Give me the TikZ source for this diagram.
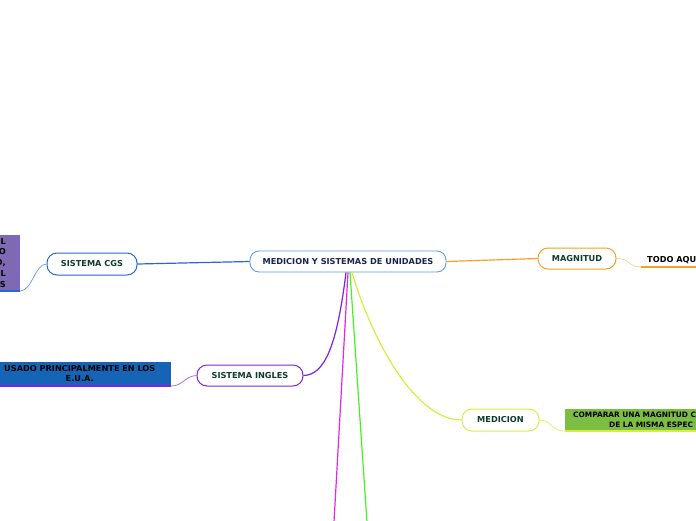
\documentclass[tikz,border=0pt]{standalone}
\usepackage{fontspec}
\setmainfont{DejaVu Sans}
\usepackage{xcolor}
\usepackage{tikz}
\usetikzlibrary{positioning}
\definecolor{rootline}{RGB}{92,160,222}
\definecolor{roottext}{RGB}{26,36,82}
\definecolor{topictext}{RGB}{14,59,43}
\definecolor{cgsline}{RGB}{42,100,228}
\definecolor{inglesline}{RGB}{122,34,232}
\definecolor{magline}{RGB}{245,162,32}
\definecolor{medline}{RGB}{212,240,60}
\definecolor{pinkline}{RGB}{228,36,240}
\definecolor{greenline}{RGB}{70,240,36}
\definecolor{boxpurple}{RGB}{126,106,180}
\definecolor{boxblue}{RGB}{22,100,182}
\definecolor{boxgreen}{RGB}{124,189,66}

\begin{document}
\begin{tikzpicture}[x=1pt, y=-1pt,
  root/.style={rectangle, rounded corners=9pt, draw=rootline, line width=0.9pt, fill=white, minimum width=196pt, minimum height=21pt, font=\bfseries\fontsize{8.2}{10}\selectfont, text=roottext},
  topic/.style={rectangle, rounded corners=10pt, line width=1pt, fill=white, minimum height=22pt, font=\bfseries\fontsize{8.2}{10}\selectfont, text=topictext},
  leaf/.style={rectangle, font=\bfseries\fontsize{8.2}{10}\selectfont, text=black, inner ysep=2pt},
  link/.style={line width=1.2pt},
  twig/.style={line width=0.7pt}
]
\useasboundingbox (0,0) rectangle (696,520);

\node[root] (root) at (348,261.5) {MEDICION Y SISTEMAS DE UNIDADES};
\node[topic, draw=cgsline, minimum width=90pt] (cgs) at (92,264) {SISTEMA CGS};
\node[topic, draw=inglesline, minimum width=106pt, minimum height=21pt] (ingles) at (250,375.5) {SISTEMA INGLES};
\node[topic, draw=magline, minimum width=78pt, minimum height=21pt] (magnitud) at (577,258.5) {MAGNITUD};
\node[topic, draw=medline, minimum width=77pt] (medicion) at (500.5,420) {MEDICION};

\node[leaf, fill=boxpurple, font=\bfseries\fontsize{8.2}{10.8}\selectfont, text width=26pt, inner xsep=14pt, align=right, minimum height=56pt, anchor=south east] (cgsleaf) at (20,291) {L\\O\\D,\\L\\S};
\node[leaf, fill=boxblue, text width=176pt, inner xsep=3pt, align=center, minimum height=24pt, anchor=south east] (usbox) at (171,386) {USADO PRINCIPALMENTE EN LOS\\E.U.A.};
\node[leaf, inner xsep=6pt, inner ysep=3pt, anchor=south west] (todo) at (641,267) {TODO AQU};
\node[leaf, fill=boxgreen, font=\bfseries\fontsize{7.4}{9.5}\selectfont, text width=140pt, minimum height=22pt, inner xsep=8pt, align=left, anchor=south west] (cmpbox) at (565,431) {COMPARAR UNA MAGNITUD C\\\hspace*{36pt}DE LA MISMA ESPEC};

\coordinate (offpink) at (334,522);
\coordinate (offgreen) at (367,522);

\draw[link, draw=cgsline] (root.west) -- (cgs.east);
\draw[link, draw=magline] (root.east) -- (magnitud.west);
\draw[link, draw=pinkline] (root.south) -- (offpink);
\draw[link, draw=greenline] ([xshift=2pt]root.south) -- (offgreen);
\draw[link, draw=inglesline] ([xshift=-2pt]root.south) .. controls (337,345) and (325,375) .. (ingles.east);
\draw[link, draw=medline] ([xshift=4pt]root.south) .. controls (372,340) and (415,420) .. (medicion.west);

\draw[twig, draw=cgsline!70] (cgs.west) .. controls (35,264) and (32,291) .. (cgsleaf.south east);
\draw[line width=1.2pt, draw=cgsline] (cgsleaf.south east) -- (cgsleaf.south west);
\draw[twig, draw=inglesline!70] (ingles.west) .. controls (185,376) and (183,386) .. (usbox.south east);
\draw[line width=1.2pt, draw=inglesline] (usbox.south east) -- (usbox.south west);
\draw[twig, draw=magline!50] (magnitud.east) .. controls (630,258) and (628,267) .. (todo.south west);
\draw[line width=1.2pt, draw=magline] (todo.south west) -- (todo.south east);
\draw[twig, draw=medline!80] (medicion.east) .. controls (552,420) and (550,431) .. (cmpbox.south west);
\draw[line width=1.2pt, draw=medline] (cmpbox.south west) -- (cmpbox.south east);
\end{tikzpicture}
\end{document}
